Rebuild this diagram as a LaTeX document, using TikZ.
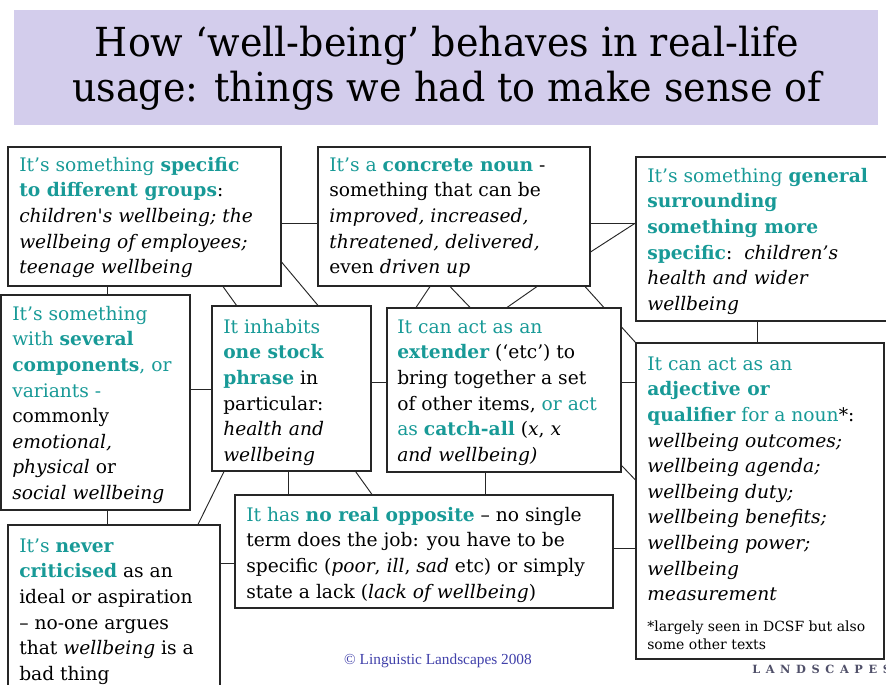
\documentclass[tikz,border=0pt]{standalone}
\usepackage{fontspec}
\setmainfont{DejaVu Serif}
\newfontfamily\copyfont{Liberation Serif}
\usetikzlibrary{fit}
\definecolor{tealc}{RGB}{24,154,151}
\definecolor{titlebg}{RGB}{211,205,236}
\definecolor{copyblue}{RGB}{64,64,170}
\definecolor{logogray}{RGB}{80,80,105}
\pgfdeclarelayer{bg}\pgfdeclarelayer{lines}\pgfsetlayers{bg,lines,main}
\newcommand\tl[1]{\textcolor{tealc}{#1}}
\newcommand\tb[1]{\textcolor{tealc}{\bfseries #1}}
\newcommand\fr{\rule{0pt}{15pt}}
\begin{document}
\begin{tikzpicture}[x=0.75pt,y=-0.75pt,
  box/.style={draw=black!85, line width=0.8pt, fill=white, inner sep=0pt},
  txt/.style={anchor=north west, inner sep=0pt, align=left, font=\fontsize{14}{19.2}\selectfont},
  conn/.style={draw=black!85, line width=0.7pt},
  ttl/.style={anchor=base, inner sep=0pt, font=\fontsize{30}{30}\selectfont, xscale=0.95}]
\begin{pgfonlayer}{bg}\fill[white] (0,0) rectangle (886,685);\end{pgfonlayer}
\useasboundingbox (0,0) rectangle (886,685);
% title
\node[fill=titlebg, inner sep=0pt, fit={(14,10)(878,125)}] (title) {};
\node[ttl] (t1) at (447,57) {How `well-being' behaves in real-life};
\node[ttl] (t2) at (447,102) {usage: things we had to make sense of};
% boxes
\node[box, fit={(8,147)(281,286)}] (A) {};
\node[box, fit={(318,147)(590,286)}] (B) {};
\node[box, fit={(636,157)(905,321)}] (C) {};
\node[box, fit={(1,295)(190,510)}] (D) {};
\node[box, fit={(212,306)(371,471)}] (E) {};
\node[box, fit={(387,308)(621,472)}] (F) {};
\node[box, fit={(636,343)(884,659)}] (G) {};
\node[box, fit={(235,495)(613,608)}] (H) {};
\node[box, fit={(8,525)(220,700)}] (I) {};
% texts
\node[txt] (At) at (19,151) {\fr\tl{It's something} \tb{specific}\\
\tb{to different groups}:\\
\textit{children\textquotesingle s wellbeing; the}\\
\textit{wellbeing of employees;}\\
\textit{teenage wellbeing}};
\node[txt] (Bt) at (329,151) {\fr\tl{It's a} \tb{concrete noun} -\\
something that can be\\
\textit{improved, increased,}\\
\textit{threatened, delivered,}\\
even \textit{driven up}};
\node[txt] (Ct) at (647,162) {\fr\tl{It's something} \tb{general}\\
\tb{surrounding}\\
\tb{something more}\\
\tb{specific}:\ \ \textit{children's}\\
\textit{health and wider}\\
\textit{wellbeing}};
\node[txt] (Dt) at (12,300) {\fr\tl{It's something}\\
\tl{with} \tb{several}\\
\tb{components}\tl{, or}\\
\tl{variants -}\\
commonly\\
\textit{emotional,}\\
\textit{physical} or\\
\textit{social wellbeing}};
\node[txt] (Et) at (223,313) {\fr\tl{It inhabits}\\
\tb{one stock}\\
\tb{phrase} in\\
particular:\\
\textit{health and}\\
\textit{wellbeing}};
\node[txt] (Ft) at (397,313) {\fr\tl{It can act as an}\\
\tb{extender} (`etc') to\\
bring together a set\\
of other items, \tl{or act}\\
\tl{as} \tb{catch-all} (\textit{x}, \textit{x}\\
\textit{and wellbeing)}};
\node[txt] (Gt) at (647,350) {\fr\tl{It can act as an}\\
\tb{adjective or}\\
\tb{qualifier} \tl{for a noun}*:\\
\textit{wellbeing outcomes;}\\
\textit{wellbeing agenda;}\\
\textit{wellbeing duty;}\\
\textit{wellbeing benefits;}\\
\textit{wellbeing power;}\\
\textit{wellbeing}\\
\textit{measurement}};
\node[txt, font=\fontsize{10.5}{13.5}\selectfont] (Gn) at (647,618) {\rule{0pt}{10pt}*largely seen in DCSF but also\\
some other texts};
\node[txt] (Ht) at (246,501) {\fr\tl{It has} \tb{no real opposite} -- no single\\
term does the job: you have to be\\
specific (\textit{poor}, \textit{ill}, \textit{sad} etc) or simply\\
state a lack (\textit{lack of wellbeing})};
\node[txt] (It) at (19,532) {\fr\tl{It's} \tb{never}\\
\tb{criticised} as an\\
ideal or aspiration\\
-- no-one argues\\
that \textit{wellbeing} is a\\
bad thing};
% footer
\node[inner sep=0pt, font=\copyfont\fontsize{11.5}{11.5}\selectfont, text=copyblue] (copy) at (438,661) {© Linguistic Landscapes 2008};
\node[anchor=base west, inner sep=0pt, font=\fontsize{8.5}{9}\bfseries\selectfont, text=logogray] (logo) at (752,673) {L\kern4.2pt A\kern4.2pt N\kern4.2pt D\kern4.2pt S\kern4.2pt C\kern4.2pt A\kern4.2pt P\kern4.2pt E\kern4.2pt S};
% connectors
\begin{pgfonlayer}{lines}
\draw[conn] (A.east |- 0,223) -- (B.west |- 0,223);
\draw[conn] (A.south -| 107,0) -- (D.north -| 107,0);
\draw[conn] (A.south -| 223,0) -- (H.north -| 372,0);
\draw[conn] (A.east |- 0,262) -- (E.north -| 318,0);
\draw[conn] (B.east |- 0,223) -- (C.west |- 0,223);
\draw[conn] (B.east |- 0,252) -- (C.west |- 0,223);
\draw[conn] (B.south -| 430,0) -- (F.north -| 416,0);
\draw[conn] (B.south -| 450,0) -- (G.west |- 0,480);
\draw[conn] (B.south -| 537,0) -- (F.north -| 507,0);
\draw[conn] (B.south -| 585,0) -- (G.north west);
\draw[conn] (C.south -| 757,0) -- (G.north -| 757,0);
\draw[conn] (D.east |- 0,389) -- (E.west |- 0,389);
\draw[conn] (E.east |- 0,382) -- (F.west |- 0,382);
\draw[conn] (F.east |- 0,382) -- (G.west |- 0,382);
\draw[conn] (E.south -| 288,0) -- (H.north -| 288,0);
\draw[conn] (E.south -| 224,0) -- (I.north -| 198,0);
\draw[conn] (F.south -| 485,0) -- (H.north -| 485,0);
\draw[conn] (D.south -| 107,0) -- (I.north -| 107,0);
\draw[conn] (I.east |- 0,563) -- (H.west |- 0,563);
\draw[conn] (H.east |- 0,548) -- (G.west |- 0,548);
\end{pgfonlayer}
\end{tikzpicture}
\end{document}
